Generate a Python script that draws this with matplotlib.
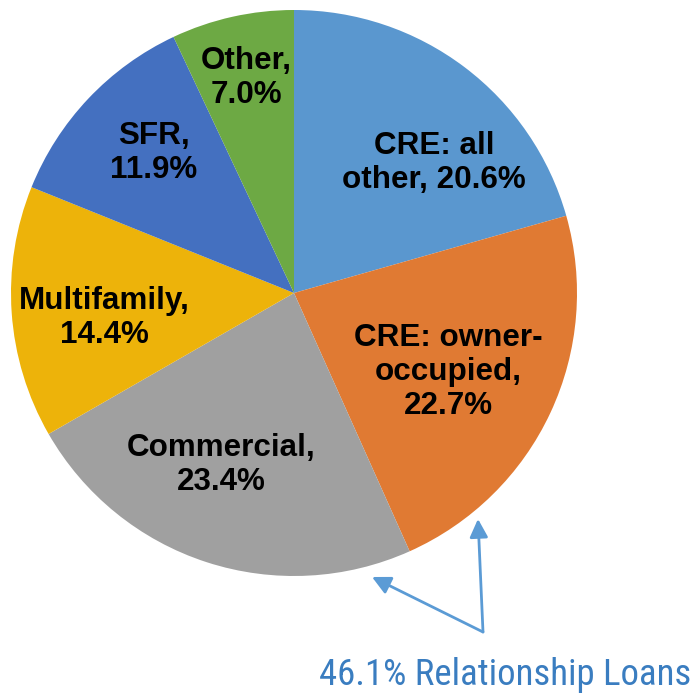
import matplotlib
matplotlib.use('Agg')
import matplotlib.pyplot as plt

# loan mix, clockwise from 12 o'clock
categories = ['CRE: all\nother', 'CRE: owner-\noccupied', 'Commercial', 'Multifamily', 'SFR', 'Other']
shares = [20.6, 22.7, 23.4, 14.4, 11.9, 7.0]
colors = ['#5A97CF', '#E07A33', '#A0A0A0', '#EDB30A', '#4470C0', '#6DA944']
note = '46.1% Relationship Loans'

W, H = 699, 695
fig = plt.figure(figsize=(W / 100, H / 100), dpi=100)
ax = fig.add_axes([0, 0, 1, 1])

cx, cy, r = 294, H - 293, 283
ax.pie(shares, colors=colors, startangle=90, counterclock=False,
       center=(cx, cy), radius=r, frame=True,
       wedgeprops=dict(linewidth=0))
ax.set_xlim(0, W)
ax.set_ylim(0, H)
ax.set_aspect('equal')
ax.axis('off')

# label centres in pixel coords (x, y from top)
label_pos = [(434, 163), (448, 372), (221, 465), (104, 318), (154, 153), (246, 78)]
seps = [', ', ',\n', ',\n', ',\n', ',\n', ',\n']
for name, v, sep, (x, y) in zip(categories, shares, seps, label_pos):
    ax.text(x, H - y, f'{name}{sep}{v:.1f}%',
            ha='center', va='center', fontsize=22.6, fontweight='bold',
            family=['Liberation Sans', 'DejaVu Sans'], linespacing=1.18)

blue = '#5B9BD5'
start = (483, H - 632)
for tip in [(372, H - 577), (478, H - 519)]:
    ax.annotate('', xy=tip, xytext=start,
                arrowprops=dict(arrowstyle='-|>,head_length=1.1,head_width=0.55',
                                color=blue, lw=2, shrinkA=0, shrinkB=0))

ax.text(505, H - 685, note, ha='center', va='baseline', fontsize=26.5,
        color='#3A7DC0', family=['Roboto Condensed', 'DejaVu Sans'])

fig.savefig('out.png', dpi=100)
